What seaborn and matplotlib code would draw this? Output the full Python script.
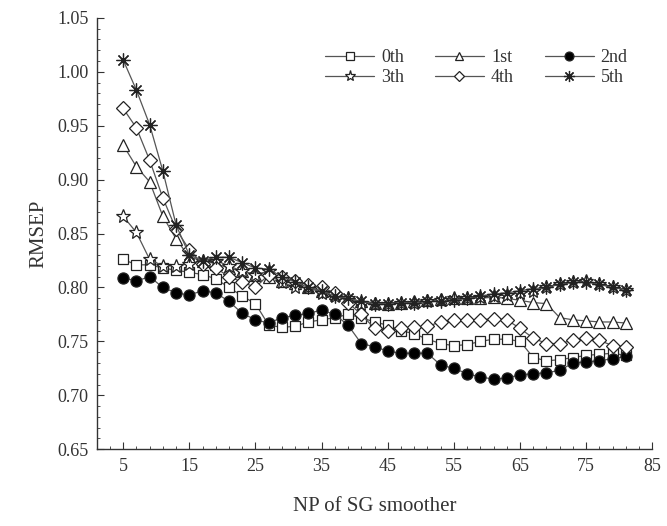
import numpy as np
import pandas as pd
import matplotlib
matplotlib.use('Agg')
import matplotlib.pyplot as plt
import seaborn as sns
from matplotlib.ticker import MultipleLocator, FixedLocator

# data (NP = 5, 7, ..., 81)
np_points = list(range(5, 82, 2))

rmsep_0th = [0.826, 0.821, 0.821, 0.818, 0.816, 0.814, 0.812, 0.808, 0.800, 0.792,
             0.785, 0.765, 0.763, 0.764, 0.768, 0.770, 0.772, 0.775, 0.772, 0.768,
             0.765, 0.760, 0.757, 0.752, 0.748, 0.746, 0.747, 0.750, 0.752, 0.752,
             0.750, 0.735, 0.732, 0.733, 0.735, 0.737, 0.738, 0.739, 0.737]
rmsep_1st = [0.932, 0.912, 0.898, 0.866, 0.845, 0.828, 0.825, 0.822, 0.818, 0.815,
             0.812, 0.810, 0.806, 0.804, 0.800, 0.797, 0.795, 0.790, 0.787, 0.786,
             0.785, 0.786, 0.787, 0.788, 0.789, 0.790, 0.790, 0.790, 0.791, 0.790,
             0.788, 0.786, 0.785, 0.772, 0.770, 0.769, 0.768, 0.768, 0.767]
rmsep_2nd = [0.809, 0.806, 0.810, 0.800, 0.795, 0.793, 0.797, 0.795, 0.787, 0.776,
             0.770, 0.767, 0.772, 0.774, 0.776, 0.779, 0.775, 0.765, 0.748, 0.745,
             0.741, 0.739, 0.739, 0.739, 0.728, 0.725, 0.720, 0.717, 0.715, 0.716,
             0.719, 0.720, 0.721, 0.723, 0.730, 0.731, 0.732, 0.734, 0.736]
rmsep_3th = [0.866, 0.851, 0.826, 0.820, 0.820, 0.822, 0.825, 0.825, 0.820, 0.815,
             0.812, 0.815, 0.805, 0.800, 0.800, 0.795, 0.792, 0.790, 0.785, 0.785,
             0.785, 0.786, 0.786, 0.787, 0.788, 0.790, 0.790, 0.791, 0.792, 0.793,
             0.795, 0.797, 0.800, 0.803, 0.805, 0.806, 0.803, 0.800, 0.798]
rmsep_4th = [0.966, 0.948, 0.918, 0.883, 0.854, 0.835, 0.822, 0.818, 0.810, 0.805,
             0.800, 0.812, 0.810, 0.806, 0.802, 0.800, 0.795, 0.786, 0.775, 0.762,
             0.760, 0.762, 0.763, 0.764, 0.768, 0.770, 0.770, 0.770, 0.771, 0.770,
             0.762, 0.753, 0.748, 0.748, 0.751, 0.753, 0.751, 0.746, 0.745]
rmsep_5th = [1.011, 0.983, 0.951, 0.908, 0.858, 0.830, 0.825, 0.828, 0.828, 0.823,
             0.818, 0.817, 0.810, 0.805, 0.800, 0.797, 0.792, 0.790, 0.787, 0.785,
             0.785, 0.786, 0.786, 0.787, 0.787, 0.788, 0.790, 0.792, 0.794, 0.795,
             0.797, 0.799, 0.800, 0.803, 0.805, 0.805, 0.803, 0.800, 0.798]

series_names = ['0th', '1st', '2nd', '3th', '4th', '5th']
series_values = [rmsep_0th, rmsep_1st, rmsep_2nd, rmsep_3th, rmsep_4th, rmsep_5th]

x_ticks = [5, 15, 25, 35, 45, 55, 65, 75, 85]

sns.set_style('ticks')
plt.rcParams['font.family'] = ['Liberation Serif', 'DejaVu Serif']

fig = plt.figure(figsize=(6.67, 5.26), dpi=100)
ax = fig.add_axes([0.145, 0.146, 0.833, 0.82])

# marker styles for each order
styles = {
    '0th': dict(marker='s', markersize=7, markerfacecolor='white'),
    '1st': dict(marker='^', markersize=8, markerfacecolor='white'),
    '2nd': dict(marker='o', markersize=8, markerfacecolor='black'),
    '3th': dict(marker='*', markersize=10, markerfacecolor='white'),
    '4th': dict(marker='D', markersize=7, markerfacecolor='white'),
    '5th': dict(marker=(8, 2, 0), markersize=10, markerfacecolor='black'),
}

for name, vals in zip(series_names, series_values):
    df = pd.DataFrame({'NP': np_points, 'RMSEP': vals})
    sns.lineplot(data=df, x='NP', y='RMSEP', ax=ax, label=name, color='#555555',
                 linewidth=0.9, markeredgecolor='#222222', markeredgewidth=0.9,
                 **styles[name])

ax.set_xlim(1, 85)
ax.set_ylim(0.65, 1.05)
ax.xaxis.set_major_locator(FixedLocator(x_ticks))
ax.xaxis.set_minor_locator(FixedLocator(list(range(1, 86, 2))))
ax.yaxis.set_major_locator(MultipleLocator(0.05))
ax.yaxis.set_minor_locator(MultipleLocator(0.01))
ax.yaxis.set_major_formatter(matplotlib.ticker.FormatStrFormatter('%.2f'))
ax.tick_params(which='both', direction='in', colors='#333333', labelcolor='#333333')
ax.tick_params(which='major', length=5, labelsize=13, pad=6)
ax.tick_params(which='minor', length=2.5)

sns.despine(ax=ax)
for s in ['left', 'bottom']:
    ax.spines[s].set_color('#333333')
    ax.spines[s].set_linewidth(1.0)

ax.set_xlabel('NP of SG smoother', fontsize=15, labelpad=16, color='#333333')
ax.set_ylabel('RMSEP', fontsize=15, labelpad=6, color='#333333')

# legend rows: 0th 1st 2nd / 3th 4th 5th (matplotlib fills by column)
handles, labels = ax.get_legend_handles_labels()
order = [0, 3, 1, 4, 2, 5]
ax.legend([handles[i] for i in order], [labels[i] for i in order],
          ncol=3, frameon=False, loc='upper right', bbox_to_anchor=(0.985, 0.965),
          fontsize=13, handlelength=2.7, columnspacing=1.7, handletextpad=0.4,
          labelspacing=0.15, markerscale=0.8, labelcolor='#333333')

plt.savefig('out.png', dpi=100)
